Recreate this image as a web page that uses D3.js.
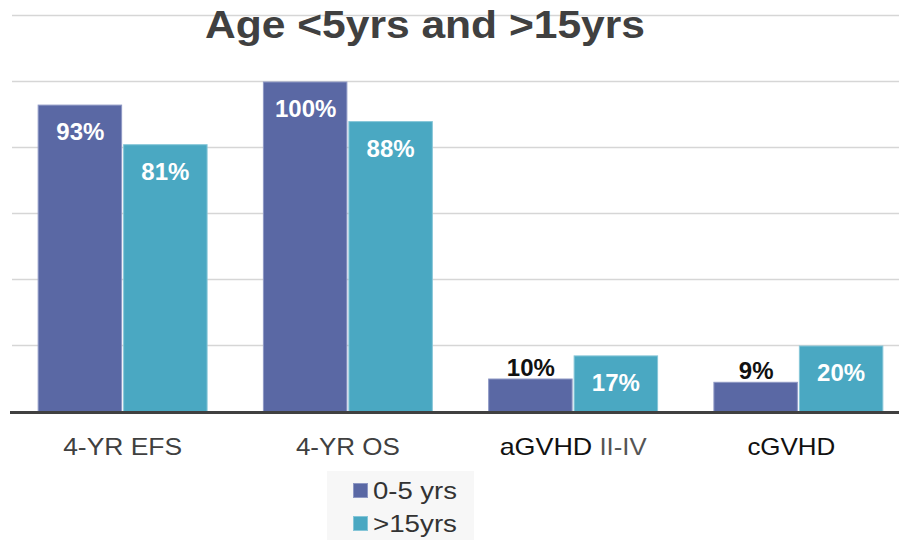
<!DOCTYPE html>
<html>
<head>
<meta charset="utf-8">
<script src="https://cdn.jsdelivr.net/npm/d3@7"></script>
<style>
  html, body { margin: 0; padding: 0; background: #fff; }
  svg { display: block; font-family: "Liberation Sans", Arial, sans-serif; }
</style>
</head>
<body>
<svg id="chart" width="899" height="540"></svg>
<script>
// Outcome measures and the two age groups
const categories = ["4-YR EFS", "4-YR OS", "aGVHD II-IV", "cGVHD"];
const seriesNames = ["0-5 yrs", ">15yrs"];
const young = [93, 100, 10, 9];
const older = [81, 88, 17, 20];
const yTicks = [0, 20, 40, 60, 80, 100, 120];

const colors = ["#5a68a4", "#4aa8c2"];
const strokes = ["#8e98c4", "#86c6d8"];
const svg = d3.select("#chart");

const baseline = 412;
const x = d3.scaleBand().domain(categories).range([10, 911])
  .paddingInner(0.25).paddingOuter(0.125);
const xs = d3.scaleBand().domain(seriesNames).range([0, x.bandwidth()]).padding(0);
const y = d3.scaleLinear().domain([0, 120]).range([baseline, 16]);

// Horizontal gridlines
svg.append("g").selectAll("line").data(yTicks.slice(1)).join("line")
  .attr("x1", 12).attr("x2", 899)
  .attr("y1", d => Math.round(y(d)) - 0.5).attr("y2", d => Math.round(y(d)) - 0.5)
  .attr("stroke", "#d6d6d6").attr("stroke-width", 1.5);

// Title
svg.append("text")
  .attr("x", 425).attr("y", 38)
  .attr("text-anchor", "middle")
  .attr("font-size", 38).attr("font-weight", "bold")
  .attr("fill", "#404040")
  .attr("textLength", 440).attr("lengthAdjust", "spacingAndGlyphs")
  .text("Age <5yrs and >15yrs");

const rows = categories.map((c, i) => ({ c, vals: [young[i], older[i]] }));

const groups = svg.append("g").selectAll("g").data(rows).join("g")
  .attr("transform", d => `translate(${x(d.c)},0)`);

groups.selectAll("rect").data(d => d.vals.map((v, j) => ({ v, j }))).join("rect")
  .attr("x", d => xs(seriesNames[d.j]) + (d.j === 1 ? 1 : 0))
  .attr("width", xs.bandwidth() - 1)
  .attr("y", d => y(d.v))
  .attr("height", d => baseline - y(d.v))
  .attr("fill", d => colors[d.j])
  .attr("stroke", d => strokes[d.j])
  .attr("stroke-width", 1);

// Value labels: inside the bar near the top, or above it when the bar is short
const isShort = v => (baseline - y(v)) < 45;
groups.selectAll("text.val").data(d => d.vals.map((v, j) => ({ v, j }))).join("text")
  .attr("class", "val")
  .attr("x", d => xs(seriesNames[d.j]) + xs.bandwidth() / 2 + (d.j === 1 ? 0.5 : 0))
  .attr("y", d => isShort(d.v) ? y(d.v) - 3 : y(d.v) + 35)
  .attr("text-anchor", "middle")
  .attr("font-size", 24).attr("font-weight", "bold")
  .attr("fill", d => isShort(d.v) ? "#111" : "#fff")
  .text(d => d.v + "%");

// Baseline axis
svg.append("line")
  .attr("x1", 10).attr("x2", 899)
  .attr("y1", baseline + 0.5).attr("y2", baseline + 0.5)
  .attr("stroke", "#404040").attr("stroke-width", 3);

// Category labels
const labelWidth = { "4-YR EFS": 119, "4-YR OS": 104, "aGVHD II-IV": 147, "cGVHD": 88 };
const labelShift = { "cGVHD": -7 };
const catLabels = svg.append("g").selectAll("text").data(categories).join("text")
  .attr("x", d => x(d) + x.bandwidth() / 2 + (labelShift[d] || 0))
  .attr("y", 455)
  .attr("text-anchor", "middle")
  .attr("font-size", 24)
  .attr("textLength", d => labelWidth[d])
  .attr("lengthAdjust", "spacingAndGlyphs");
catLabels.each(function (d) {
  const t = d3.select(this);
  if (d.startsWith("aGVHD")) {
    t.append("tspan").attr("fill", "#111").text("aGVHD");
    t.append("tspan").attr("fill", "#555").attr("font-size", 23).text("  II-IV");
  } else if (d === "cGVHD") {
    t.attr("fill", "#111").text(d);
  } else {
    t.attr("fill", "#404040").text(d);
  }
});

// Legend
const legend = svg.append("g").attr("transform", "translate(327,471)");
legend.append("rect").attr("width", 147).attr("height", 69).attr("fill", "#f7f7f7");
seriesNames.forEach((name, i) => {
  const g = legend.append("g").attr("transform", `translate(26,${12 + i * 33})`);
  g.append("rect").attr("x", 0.5).attr("y", 0.5).attr("width", 14).attr("height", 14)
    .attr("fill", colors[i]).attr("stroke", strokes[i]);
  g.append("text").attr("x", 20).attr("y", 16)
    .attr("font-size", 23).attr("fill", "#333")
    .attr("textLength", 84).attr("lengthAdjust", "spacingAndGlyphs")
    .text(name);
});
</script>
</body>
</html>
